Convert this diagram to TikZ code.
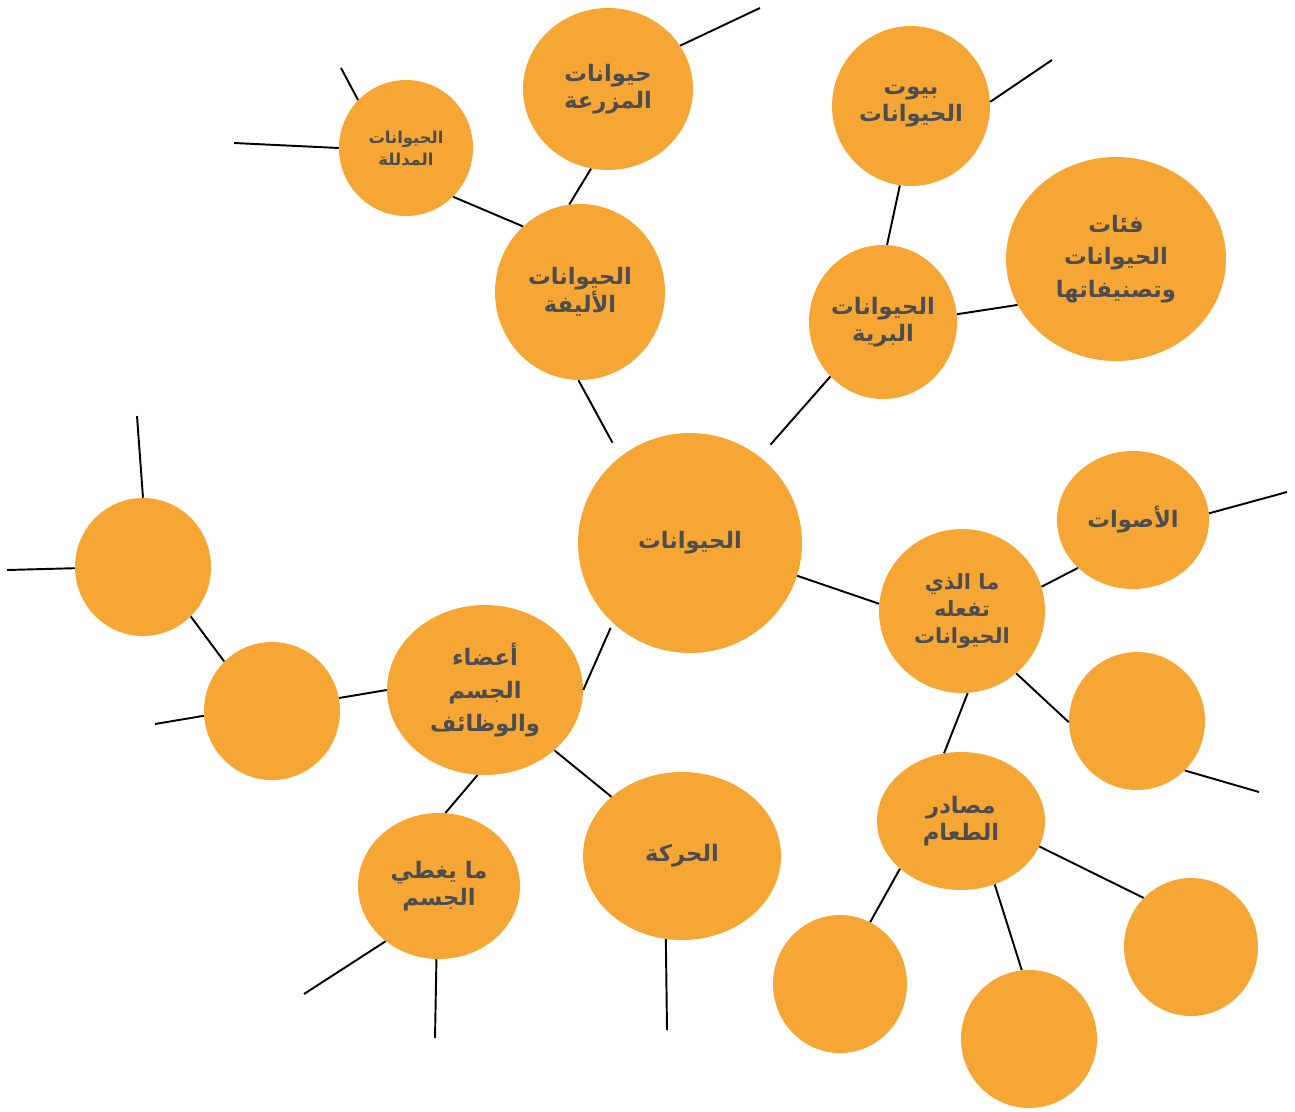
\documentclass[tikz,border=0pt]{standalone}
\usepackage{fontspec}
\usetikzlibrary{shapes.geometric}
\TeXXeTstate=1
\newfontfamily\arabicfont[Script=Arabic]{DejaVu Sans}
\newcommand\artxt[1]{{\beginR #1\endR}}
\definecolor{orng}{HTML}{F6A634}
\definecolor{txtgray}{HTML}{4D4D4F}
\tikzset{
  bub/.style={ellipse, fill=orng, inner sep=0pt, align=center, text=txtgray,
    font=\arabicfont\bfseries\fontsize{17}{20}\selectfont},
  sz/.style 2 args={minimum width=#1*1.5pt, minimum height=#2*1.5pt},
  small/.style={font=\arabicfont\bfseries\fontsize{12.3}{16.5}\selectfont},
  mid/.style={font=\arabicfont\bfseries\fontsize{15.7}{20.5}\selectfont},
  big/.style={font=\arabicfont\bfseries\fontsize{17}{24.5}\selectfont},
  link/.style={draw=black, line width=1.45pt}
}
\begin{document}
\begin{tikzpicture}[x=0.75pt, y=-0.75pt]
\useasboundingbox (0,0) rectangle (1295,1111);
% nodes
\node[bub, sz={112}{110}] (C) at (690,543) {\artxt{الحيوانات}};
\node[bub, sz={85}{88}] (A) at (580,292) {\artxt{الحيوانات}\\\artxt{الأليفة}};
\node[bub, sz={85}{81}] (F) at (608,89) {\artxt{حيوانات}\\\artxt{المزرعة}};
\node[bub, small, sz={67}{68}] (P) at (406,148) {\artxt{الحيوانات}\\\artxt{المدللة}};
\node[bub, sz={79}{80}] (H) at (911,106) {\artxt{بيوت}\\\artxt{الحيوانات}};
\node[bub, sz={74}{77}] (W) at (883,322) {\artxt{الحيوانات}\\\artxt{البرية}};
\node[bub, big, sz={110}{102}] (K) at (1116,259) {\artxt{فئات}\\\artxt{الحيوانات}\\\artxt{وتصنيفاتها}};
\node[bub, mid, sz={83}{82}] (M) at (962,611) {\artxt{ما الذي}\\\artxt{تفعله}\\\artxt{الحيوانات}};
\node[bub, sz={76}{69}] (S) at (1133,520) {\artxt{الأصوات}};
\node[bub, sz={68}{69}] (E1) at (1137,721) {};
\node[bub, sz={84}{69}] (D) at (961,821) {\artxt{مصادر}\\\artxt{الطعام}};
\node[bub, sz={67}{69}] (E4) at (1191,947) {};
\node[bub, sz={68}{69}] (E3) at (1029,1039) {};
\node[bub, sz={67}{69}] (E2) at (840,984) {};
\node[bub, sz={99}{84}] (R) at (682,856) {\artxt{الحركة}};
\node[bub, big, sz={98}{85}] (B) at (485,690) {\artxt{أعضاء}\\\artxt{الجسم}\\\artxt{والوظائف}};
\node[bub, sz={81}{73}] (G) at (439,886) {\artxt{ما يغطي}\\\artxt{الجسم}};
\node[bub, sz={68}{69}] (E5) at (272,711) {};
\node[bub, sz={68}{69}] (E6) at (143,567) {};
% free ends
\coordinate (p1) at (341,68);
\coordinate (p2) at (234,143);
\coordinate (f1) at (760,8);
\coordinate (h1) at (1052,60);
\coordinate (s1) at (1287,492);
\coordinate (e1) at (1259,792);
\coordinate (g1) at (304,994);
\coordinate (g2) at (435,1038);
\coordinate (r1) at (667,1030);
\coordinate (e5) at (155,724);
\coordinate (e6a) at (137,416);
\coordinate (e6b) at (7,570);
% connectors
\draw[link, shorten <=12pt] (C.129) -- (A.269);
\draw[link, shorten <=12pt] (C.51) -- (W.226);
\draw[link] (C.-17) -- (M.175);
\draw[link, shorten <=4pt] (C.226) -- (B.0);
\draw[link] (A.97) -- (F.258);
\draw[link] (A.131) -- (P.-46);
\draw[link] (P.135) -- (p1);
\draw[link] (P.180) -- (p2);
\draw[link] (F.31) -- (f1);
\draw[link] (W.87) -- (H.262);
\draw[link] (H.3) -- (h1);
\draw[link] (W.6) -- (K.205);
\draw[link] (M.17) -- (S.221);
\draw[link] (S.5) -- (s1);
\draw[link] (M.-49) -- (E1.181);
\draw[link] (E1.-46) -- (e1);
\draw[link] (M.-86) -- (D.104);
\draw[link] (D.218) -- (E2.64);
\draw[link] (D.-62) -- (E3.96);
\draw[link] (D.-18) -- (E4.134);
\draw[link] (B.-41) -- (R.140);
\draw[link] (B.265) -- (G.85);
\draw[link] (G.226) -- (g1);
\draw[link] (G.268) -- (g2);
\draw[link] (R.259) -- (r1);
\draw[link] (B.180) -- (E5.11);
\draw[link] (E5.184) -- (e5);
\draw[link] (E5.134) -- (E6.-46);
\draw[link] (E6.90) -- (e6a);
\draw[link] (E6.181) -- (e6b);
\end{tikzpicture}
\end{document}
